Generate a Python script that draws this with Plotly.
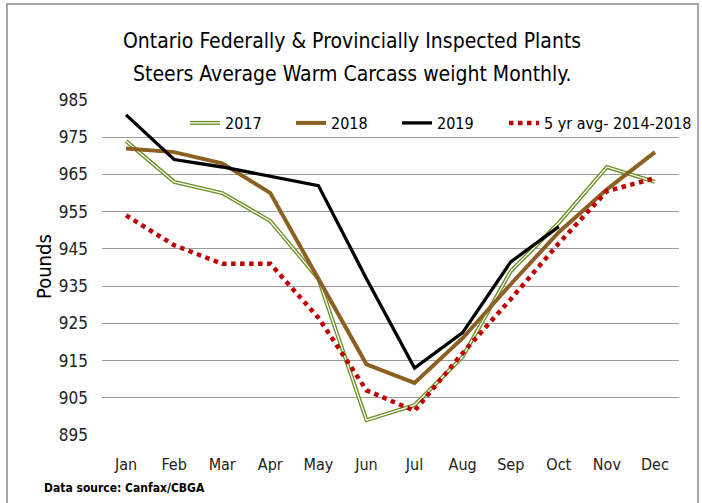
import plotly.graph_objects as go

months = ["Jan", "Feb", "Mar", "Apr", "May", "Jun", "Jul", "Aug", "Sep", "Oct", "Nov", "Dec"]

y2017 = [974, 963, 960, 952.5, 937, 899, 903, 916, 939, 952, 967, 963]
y2018 = [972, 971, 968, 960, 937, 914, 909, 921, 935.5, 949.5, 961, 971]
y2019 = [981, 969, 967, 964.5, 962, 937, 913, 922.5, 941.5, 951, None, None]
avg_5yr = [954, 946, 941, 941, 926.5, 907, 901.5, 917, 931.5, 946.5, 960.5, 964]

title_lines = ["Ontario Federally & Provincially Inspected Plants",
               "Steers Average Warm Carcass weight Monthly."]

FONT = "DejaVu Sans Condensed, sans-serif"

# plot area in pixels: x 102..679, y 100..435
L, R, T, B = 102, 679, 100, 435


def px(x):
    return (x - L) / (R - L)


def py(y):
    return (B - y) / (B - T)


fig = go.Figure()

# 2017 - double line (green outline with white core)
fig.add_trace(go.Scatter(
    x=months, y=y2017, mode="lines", name="2017",
    line=dict(color="#6B8E23", width=4), legend="legend",
))
fig.add_trace(go.Scatter(
    x=months, y=y2017, mode="lines", name="2017",
    line=dict(color="white", width=1.3), legend="legend3",
    hoverinfo="skip",
))

# 2018
fig.add_trace(go.Scatter(
    x=months, y=y2018, mode="lines", name="2018",
    line=dict(color="#8C6023", width=4), legend="legend",
))

# 2019
fig.add_trace(go.Scatter(
    x=months, y=y2019, mode="lines", name="2019",
    line=dict(color="black", width=3.3), legend="legend",
))

# 5 yr average (red square dots)
fig.add_trace(go.Scatter(
    x=months, y=avg_5yr, mode="lines", name="5 yr avg- 2014-2018",
    line=dict(color="#C00000", width=4.5, dash="dot"), legend="legend2",
))

leg_common = dict(
    orientation="h",
    yanchor="middle",
    y=py(123),
    xanchor="left",
    bgcolor="rgba(255,255,255,0)",
    itemwidth=30,
    traceorder="normal",
)

fig.update_layout(
    width=702,
    height=503,
    # fixed margins: the legend must not push the plot area around
    margin=dict(l=L, r=702 - R, t=T, b=503 - B, autoexpand=False),
    paper_bgcolor="white",
    plot_bgcolor="white",
    font=dict(family=FONT, size=15, color="#222222"),
    showlegend=True,
    legend=dict(leg_common, x=px(185), entrywidth=61,
                font=dict(family=FONT, size=16, color="black")),
    legend2=dict(leg_common, x=px(504),
                 font=dict(family=FONT, size=16, color="black")),
    legend3=dict(leg_common, x=px(185), entrywidth=61,
                 font=dict(family=FONT, size=16, color="rgba(0,0,0,0)")),
    xaxis=dict(
        range=[-0.5, 11.5],
        showgrid=False,
        showline=False,
        zeroline=False,
        ticks="",
        automargin=False,
        ticklabelstandoff=18,
        tickfont=dict(family=FONT, size=16, color="#222222"),
    ),
    yaxis=dict(
        range=[895, 985],
        dtick=10,
        tick0=895,
        showgrid=True,
        gridcolor="#9C9C9C",
        gridwidth=1,
        showline=False,
        zeroline=False,
        ticks="",
        automargin=False,
        ticklabelstandoff=13,
        tickfont=dict(family=FONT, size=17, color="#222222"),
    ),
    shapes=[
        dict(type="rect", xref="paper", yref="paper",
             x0=px(7), x1=px(698), y0=py(510), y1=py(4),
             line=dict(color="#A6A6A6", width=2), fillcolor="rgba(0,0,0,0)",
             layer="below"),
    ],
    annotations=[
        dict(text=title_lines[0], xref="paper", yref="paper",
             x=px(352), y=py(41), xanchor="center", yanchor="middle",
             showarrow=False, font=dict(family=FONT, size=21, color="black")),
        dict(text=title_lines[1], xref="paper", yref="paper",
             x=px(352), y=py(74), xanchor="center", yanchor="middle",
             showarrow=False, font=dict(family=FONT, size=21, color="black")),
        dict(text="Pounds", textangle=-90, xref="paper", yref="paper",
             x=px(44), y=py(267), xanchor="center", yanchor="middle",
             showarrow=False, font=dict(family=FONT, size=20, color="black")),
        dict(text="<b>Data source: Canfax/CBGA</b>", xref="paper", yref="paper",
             x=px(42), y=py(488), xanchor="left", yanchor="middle",
             showarrow=False, font=dict(family=FONT, size=12, color="black")),
    ],
)

# the page has a default 8px body margin; remove it so the figure sits at 0,0
fig.write_html(
    "out.html",
    config={"displayModeBar": False},
    post_script="document.body.style.margin='0';document.body.style.overflow='hidden';",
)
